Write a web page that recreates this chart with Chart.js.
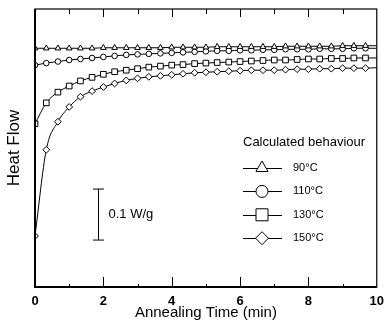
<!DOCTYPE html>
<html>
<head>
<meta charset="utf-8">
<script src="https://cdn.jsdelivr.net/npm/chart.js@4.4.1/dist/chart.umd.min.js"></script>
<style>
  html, body { margin: 0; padding: 0; background: #fff; }
  #wrap { width: 391px; height: 326px; }
</style>
</head>
<body>
<div id="wrap"><canvas id="heatChart" width="391" height="326"></canvas></div>
<script>
// Temps de recuit (min), un point tous les 1/3 min
const times = [0, 0.33, 0.67, 1, 1.33, 1.67, 2, 2.33, 2.67, 3, 3.33, 3.67, 4, 4.33, 4.67, 5,
  5.33, 5.67, 6, 6.33, 6.67, 7, 7.33, 7.67, 8, 8.33, 8.67, 9, 9.33, 9.67, 10];

// Flux de chaleur (W/g, origine arbitraire)
const flow90 = [0.468, 0.468, 0.468, 0.468, 0.468, 0.468, 0.469, 0.469, 0.469, 0.469, 0.469,
  0.469, 0.470, 0.470, 0.470, 0.470, 0.471, 0.471, 0.471, 0.471, 0.471,
  0.471, 0.472, 0.472, 0.472, 0.472, 0.472, 0.473, 0.473, 0.473, 0.473];
const flow110 = [0.435, 0.439, 0.442, 0.445, 0.447, 0.449, 0.451, 0.453, 0.455, 0.456, 0.457,
  0.458, 0.459, 0.460, 0.461, 0.462, 0.463, 0.463, 0.464, 0.464, 0.465,
  0.465, 0.466, 0.466, 0.466, 0.467, 0.467, 0.467, 0.468, 0.468, 0.468];
const flow130 = [0.320, 0.361, 0.382, 0.394, 0.404, 0.411, 0.417, 0.422, 0.425, 0.428, 0.431,
  0.433, 0.435, 0.436, 0.438, 0.439, 0.440, 0.441, 0.442, 0.443, 0.444,
  0.445, 0.445, 0.446, 0.447, 0.447, 0.448, 0.448, 0.449, 0.449, 0.449];
const flow150 = [0.100, 0.269, 0.324, 0.353, 0.373, 0.384, 0.392, 0.399, 0.405, 0.409, 0.412,
  0.414, 0.416, 0.418, 0.420, 0.421, 0.422, 0.423, 0.424, 0.425, 0.425,
  0.425, 0.426, 0.427, 0.427, 0.428, 0.428, 0.429, 0.429, 0.429, 0.430];

const seriesLabels = ['90°C', '110°C', '130°C', '150°C'];
const seriesValues = [flow90, flow110, flow130, flow150];
const markers = ['triangle', 'circle', 'rect', 'rectRot'];
const xTicks = [0, 2, 4, 6, 8, 10];

const FONT = 'Liberation Sans, Arial, sans-serif';

// Barre d'échelle 0.1 W/g
const scaleBar = { x: 1.83, from: 0.092, to: 0.192, label: '0.1 W/g' };

const markerSize = { triangle: 3.3, circle: 2.8, rect: 4, rectRot: 3.4 };
const legendSize = { triangle: 7, circle: 6, rect: 8.5, rectRot: 6.5 };

const datasets = seriesValues.map(function(vals, i) {
  return {
    label: seriesLabels[i],
    data: vals.map(function(v, k) { return { x: times[k], y: v }; }),
    borderColor: '#000',
    borderWidth: 1,
    backgroundColor: '#fff',
    pointStyle: markers[i],
    pointBackgroundColor: '#fff',
    pointBorderColor: '#000',
    pointBorderWidth: 1,
    pointRadius: function(c) { return c.dataIndex === times.length - 1 ? 0 : markerSize[markers[i]]; },
    cubicInterpolationMode: 'monotone',
    fill: false
  };
});

// Cadre, graduations intérieures, barre d'échelle et légende
const decorations = {
  id: 'decorations',
  afterDatasetsDraw: function(chart) {
    const c = chart.ctx;
    const a = chart.chartArea;
    const xs = chart.scales.x;
    const ys = chart.scales.y;
    c.save();
    c.strokeStyle = '#000';
    c.lineWidth = 1.2;
    c.strokeRect(a.left, a.top, a.right - a.left, a.bottom - a.top);
    // axes gauche et bas plus épais
    c.lineWidth = 2;
    c.beginPath();
    c.moveTo(a.left, a.top);
    c.lineTo(a.left, a.bottom);
    c.lineTo(a.right, a.bottom);
    c.stroke();

    c.lineWidth = 1;
    for (let t = 1; t < 10; t++) {
      const px = Math.round(xs.getPixelForValue(t)) + 0.5;
      const major = t % 2 === 0;
      c.beginPath();
      c.moveTo(px, a.bottom);
      c.lineTo(px, a.bottom - (major ? 10 : 3));
      c.moveTo(px, a.top);
      c.lineTo(px, a.top + (major ? 8 : 5));
      c.stroke();
    }

    // barre d'échelle
    const bx = Math.round(xs.getPixelForValue(scaleBar.x)) + 0.5;
    const y1 = ys.getPixelForValue(scaleBar.from);
    const y2 = ys.getPixelForValue(scaleBar.to);
    c.beginPath();
    c.moveTo(bx, y1); c.lineTo(bx, y2);
    c.moveTo(bx - 5.5, y1); c.lineTo(bx + 5.5, y1);
    c.moveTo(bx - 5.5, y2); c.lineTo(bx + 5.5, y2);
    c.stroke();
    c.fillStyle = '#000';
    c.font = '13px ' + FONT;
    c.textBaseline = 'middle';
    c.textAlign = 'left';
    c.fillText(scaleBar.label, bx + 10, (y1 + y2) / 2);

    // légende
    c.font = '13px ' + FONT;
    c.fillText('Calculated behaviour', 243, 142);
    c.font = '11px ' + FONT;
    seriesLabels.forEach(function(lab, i) {
      const ly = 168 + i * 23.4;
      c.beginPath();
      c.moveTo(243, Math.round(ly) + 0.5);
      c.lineTo(282, Math.round(ly) + 0.5);
      c.stroke();
      c.fillStyle = '#fff';
      c.beginPath();
      Chart.helpers.drawPoint(c, { pointStyle: markers[i], radius: legendSize[markers[i]], borderWidth: 1, rotation: 0 }, 262, ly);
      c.fillStyle = '#000';
      c.fillText(lab, 293, ly);
    });
    c.restore();
  }
};

new Chart(document.getElementById('heatChart'), {
  type: 'line',
  data: { datasets: datasets },
  options: {
    responsive: false,
    animation: false,
    layout: { padding: { top: 9, right: 7, left: 0, bottom: 0 } },
    plugins: {
      legend: { display: false },
      tooltip: { enabled: false }
    },
    scales: {
      x: {
        type: 'linear',
        min: 0,
        max: 10,
        afterBuildTicks: function(s) { s.ticks = xTicks.map(function(v) { return { value: v }; }); },
        afterFit: function(s) { s.height = 39; },
        grid: { display: false, drawTicks: false },
        border: { display: false },
        ticks: { color: '#000', font: { family: FONT, size: 13, weight: 'bold' }, padding: 7, maxRotation: 0 },
        title: { display: true, text: 'Annealing Time (min)', color: '#000', font: { family: FONT, size: 15 }, padding: { top: 0, bottom: 4 } }
      },
      y: {
        min: 0,
        max: 0.545,
        afterFit: function(s) { s.width = 35; },
        grid: { display: false },
        border: { display: false },
        ticks: { display: false },
        title: { display: true, text: 'Heat Flow', color: '#000', font: { family: FONT, size: 17 }, padding: { top: 4, bottom: 0 } }
      }
    }
  },
  plugins: [decorations]
});
</script>
</body>
</html>
